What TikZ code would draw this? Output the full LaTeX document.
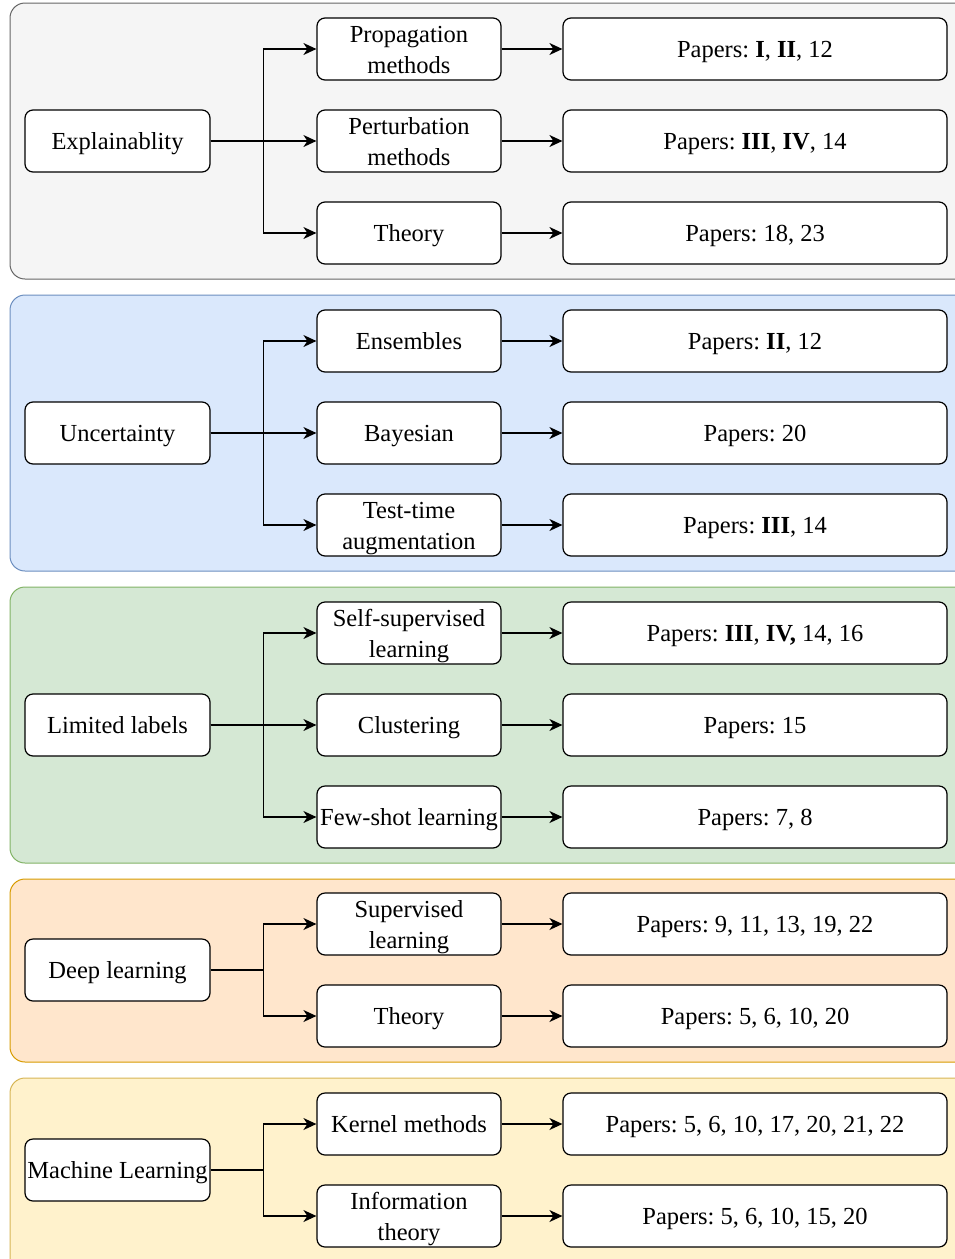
\documentclass[tikz,border=0pt]{standalone}
\usepackage{fontspec}
\setmainfont{Liberation Serif}
\usetikzlibrary{arrows.meta}
\frenchspacing
\definecolor{grayfill}{HTML}{F5F5F5}\definecolor{graystroke}{HTML}{666666}
\definecolor{bluefill}{HTML}{DAE8FC}\definecolor{bluestroke}{HTML}{6C8EBF}
\definecolor{greenfill}{HTML}{D5E8D4}\definecolor{greenstroke}{HTML}{82B366}
\definecolor{orangefill}{HTML}{FFE6CC}\definecolor{orangestroke}{HTML}{D79B00}
\definecolor{yellowfill}{HTML}{FFF2CC}\definecolor{yellowstroke}{HTML}{D6B656}
% fixed line box so every label sits on the same baseline
\newcommand{\linestrut}{\rule[-7pt]{0pt}{31pt}}
% two-line label: strut the first line so both lines keep the same line box
\newcommand{\twolines}[2]{\linestrut#1\\#2}
\begin{document}
\begin{tikzpicture}[x=1pt,y=-1pt,
  box/.style={draw=black, line width=1.2pt, rounded corners=8pt, fill=white,
    minimum height=62pt, align=center, inner sep=0pt,
    font=\fontsize{24.5}{31}\selectfont,
    execute at begin node=\linestrut, execute at end node=\linestrut},
  root/.style={box, minimum width=185pt},
  mid/.style={box, minimum width=184pt},
  leaf/.style={box, minimum width=384pt},
  link/.style={line width=1.3pt, -{Stealth[length=13pt,width=12pt,inset=4pt]}},
  panel/.style={rounded corners=15pt, line width=1pt}]
\useasboundingbox (0,0) rectangle (955,1259);
% group backgrounds
\begin{scope}
  \clip (0,0) rectangle (955,1259);
  \draw[panel, fill=grayfill, draw=graystroke] (10,3) rectangle (975,279);
  \draw[panel, fill=bluefill, draw=bluestroke] (10,295) rectangle (975,571);
  \draw[panel, fill=greenfill, draw=greenstroke] (10,587) rectangle (975,863);
  \draw[panel, fill=orangefill, draw=orangestroke] (10,879) rectangle (975,1062);
  \draw[panel, fill=yellowfill, draw=yellowstroke] (10,1078) rectangle (975,1290);
\end{scope}

% Explainability
\node[root] (ex) at (117.5,141) {Explainablity};
\node[mid] (ex1) at (409,49) {\twolines{Propagation}{methods}};
\node[mid] (ex2) at (409,141) {\twolines{Perturbation}{methods}};
\node[mid] (ex3) at (409,233) {Theory};
\node[leaf] (exp1) at (755,49) {Papers: \textbf{I}, \textbf{II}, 12};
\node[leaf] (exp2) at (755,141) {Papers: \textbf{III}, \textbf{IV}, 14};
\node[leaf] (exp3) at (755,233) {Papers: 18, 23};

% Uncertainty
\node[root] (un) at (117.5,433) {Uncertainty};
\node[mid] (un1) at (409,341) {Ensembles};
\node[mid] (un2) at (409,433) {Bayesian};
\node[mid] (un3) at (409,525) {\twolines{Test-time}{augmentation}};
\node[leaf] (unp1) at (755,341) {Papers: \textbf{II}, 12};
\node[leaf] (unp2) at (755,433) {Papers: 20};
\node[leaf] (unp3) at (755,525) {Papers: \textbf{III}, 14};

% Limited labels
\node[root] (ll) at (117.5,725) {Limited labels};
\node[mid] (ll1) at (409,633) {\twolines{Self-supervised}{learning}};
\node[mid] (ll2) at (409,725) {Clustering};
\node[mid] (ll3) at (409,817) {Few-shot learning};
\node[leaf] (llp1) at (755,633) {Papers: \textbf{III}, \textbf{IV,} 14, 16};
\node[leaf] (llp2) at (755,725) {Papers: 15};
\node[leaf] (llp3) at (755,817) {Papers: 7, 8};

% Deep learning
\node[root] (dl) at (117.5,970) {Deep learning};
\node[mid] (dl1) at (409,924) {\twolines{Supervised}{learning}};
\node[mid] (dl2) at (409,1016) {Theory};
\node[leaf] (dlp1) at (755,924) {Papers: 9, 11, 13, 19, 22};
\node[leaf] (dlp2) at (755,1016) {Papers: 5, 6, 10, 20};

% Machine learning
\node[root] (ml) at (117.5,1170) {Machine Learning};
\node[mid] (ml1) at (409,1124) {Kernel methods};
\node[mid] (ml2) at (409,1216) {\twolines{Information}{theory}};
\node[leaf] (mlp1) at (755,1124) {Papers: 5, 6, 10, 17, 20, 21, 22};
\node[leaf] (mlp2) at (755,1216) {Papers: 5, 6, 10, 15, 20};

% branching connectors
\foreach \r/\a/\b/\c in {ex/ex1/ex2/ex3, un/un1/un2/un3, ll/ll1/ll2/ll3}{
  \draw[link] (\r.east) -- ++(53,0) |- (\a.west);
  \draw[link] (\r.east) -- (\b.west);
  \draw[link] (\r.east) -- ++(53,0) |- (\c.west);
}
\foreach \r/\a/\b in {dl/dl1/dl2, ml/ml1/ml2}{
  \draw[link] (\r.east) -- ++(53,0) |- (\a.west);
  \draw[link] (\r.east) -- ++(53,0) |- (\b.west);
}
% topic to papers
\foreach \m/\p in {ex1/exp1, ex2/exp2, ex3/exp3, un1/unp1, un2/unp2, un3/unp3,
  ll1/llp1, ll2/llp2, ll3/llp3, dl1/dlp1, dl2/dlp2, ml1/mlp1, ml2/mlp2}{
  \draw[link] (\m.east) -- (\p.west);
}
\end{tikzpicture}
\end{document}
